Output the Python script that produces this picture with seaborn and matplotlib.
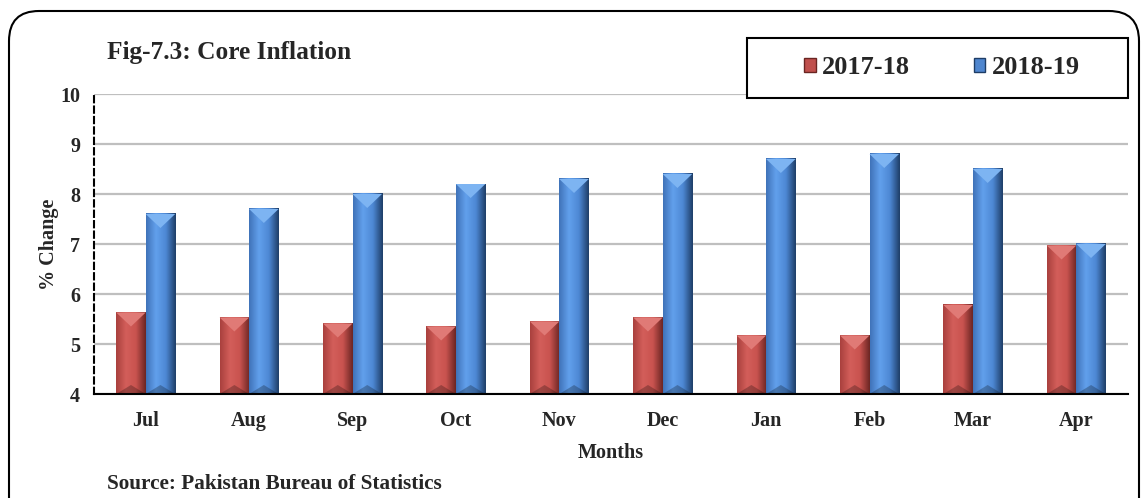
import numpy as np
import pandas as pd
import matplotlib
matplotlib.use("Agg")
import matplotlib.pyplot as plt
import matplotlib.patches as mpatches
from matplotlib.colors import LinearSegmentedColormap
from matplotlib.transforms import IdentityTransform
import seaborn as sns

# Data
months = ["Jul", "Aug", "Sep", "Oct", "Nov", "Dec", "Jan", "Feb", "Mar", "Apr"]
core_2017_18 = [5.63, 5.53, 5.41, 5.35, 5.45, 5.53, 5.17, 5.17, 5.78, 6.97]
core_2018_19 = [7.6, 7.7, 8.0, 8.2, 8.3, 8.4, 8.7, 8.8, 8.5, 7.0]
years = ["2017-18", "2018-19"]

df = pd.DataFrame({
    "Month": months * 2,
    "Value": core_2017_18 + core_2018_19,
    "Year": [years[0]] * len(months) + [years[1]] * len(months),
})

red = "#C0504D"
blue = "#4F86CF"

sns.set_style("white")
plt.rcParams["font.family"] = ["Liberation Serif", "DejaVu Serif"]
plt.rcParams["font.weight"] = "bold"

fig = plt.figure(figsize=(11.48, 4.98), dpi=100)
ax = fig.add_axes([94 / 1148, 104 / 498, 1034 / 1148, 300 / 498])

sns.barplot(data=df, x="Month", y="Value", hue="Year", palette=[red, blue],
            width=0.57, ax=ax, legend=False, zorder=3)

ax.set_xlim(-0.5, len(months) - 0.5)
ax.set_ylim(4, 10)
ymin = 4

# bevelled look: horizontal gradient for each bar, lighter top cap, darker foot
cmaps = {
    red: LinearSegmentedColormap.from_list("r", ["#A8403D", "#D35E5A", "#C9534F", "#6A2522"]),
    blue: LinearSegmentedColormap.from_list("b", ["#3F72B8", "#62A0EC", "#4D88D4", "#1E3D66"]),
}
caps = {red: "#E07A76", blue: "#7DB4F2"}
grad = np.linspace(0, 1, 256).reshape(1, -1)
for i, bar in enumerate(ax.patches):
    col = red if i < len(months) else blue
    x0, w = bar.get_x(), bar.get_width()
    top = bar.get_y() + bar.get_height()
    bar.set_facecolor("none")
    bar.set_edgecolor("none")
    ax.imshow(grad, cmap=cmaps[col], aspect="auto", extent=[x0, x0 + w, ymin, top],
              zorder=3, interpolation="bicubic")
    ax.add_patch(mpatches.Polygon([[x0, top], [x0 + w, top], [x0 + w / 2, top - 0.28]],
                                  closed=True, facecolor=caps[col], edgecolor="none", zorder=4))
    ax.add_patch(mpatches.Polygon([[x0, ymin], [x0 + w, ymin], [x0 + w / 2, ymin + 0.18]],
                                  closed=True, facecolor="black", alpha=0.25, edgecolor="none", zorder=4))

ax.set_xlim(-0.5, len(months) - 0.5)
ax.set_ylim(4, 10)
ax.set_yticks(range(4, 11))
ax.yaxis.grid(True, color="#BFBFBF", linewidth=1.6, zorder=0)
ax.set_axisbelow(True)

for side in ["top", "right"]:
    ax.spines[side].set_visible(False)
ax.spines["left"].set_linestyle((0, (3, 2)))
ax.spines["left"].set_linewidth(1.5)
ax.spines["left"].set_color("black")
ax.spines["bottom"].set_linewidth(1.5)
ax.spines["bottom"].set_color("black")
ax.spines["bottom"].set_zorder(5)

ax.set_xticks(np.arange(-0.5, len(months), 1), minor=True)
ax.tick_params(axis="x", which="major", length=0, pad=12, labelsize=14.5)
ax.tick_params(axis="x", which="minor", length=8, width=1.5, direction="out", color="black")
ax.tick_params(axis="y", length=10, width=1.2, direction="inout", color="black",
               labelsize=14.5, pad=5)
for lab in ax.get_xticklabels() + ax.get_yticklabels():
    lab.set_fontweight("bold")

ax.set_xlabel("Months", fontsize=14.5, fontweight="bold", labelpad=9)
ax.set_ylabel("% Change", fontsize=14.5, fontweight="bold", labelpad=1)

fig.text(107 / 1148, 1 - 52 / 498, "Fig-7.3: Core Inflation", fontsize=18.3,
         fontweight="bold", va="center", ha="left")
fig.text(107 / 1148, 1 - 484 / 498, "Source: Pakistan Bureau of Statistics", fontsize=15.3,
         fontweight="bold", va="center", ha="left")

# outer rounded frame (pixel coords)
frame = mpatches.FancyBboxPatch((9, -30), 1130, 517, boxstyle="round,pad=0,rounding_size=30",
                                transform=IdentityTransform(), facecolor="none",
                                edgecolor="black", linewidth=1.5)
fig.patches.append(frame)

# legend box
lbox = mpatches.Rectangle((747 / 1148, 1 - 98 / 498), 381 / 1148, 60 / 498,
                          transform=fig.transFigure, facecolor="white", edgecolor="black",
                          linewidth=1.5, zorder=5)
fig.patches.append(lbox)
handles = [mpatches.Patch(facecolor=red, edgecolor="#6A2522", label=years[0]),
           mpatches.Patch(facecolor=blue, edgecolor="#1E3D66", label=years[1])]
fig.legend(handles=handles, loc="center", bbox_to_anchor=(942 / 1148, 1 - 68 / 498),
           ncol=2, frameon=False, prop={"weight": "bold", "size": 19},
           handlelength=0.45, handleheight=0.45, handletextpad=0.25, columnspacing=2.4)

fig.savefig("out.png", dpi=100)
